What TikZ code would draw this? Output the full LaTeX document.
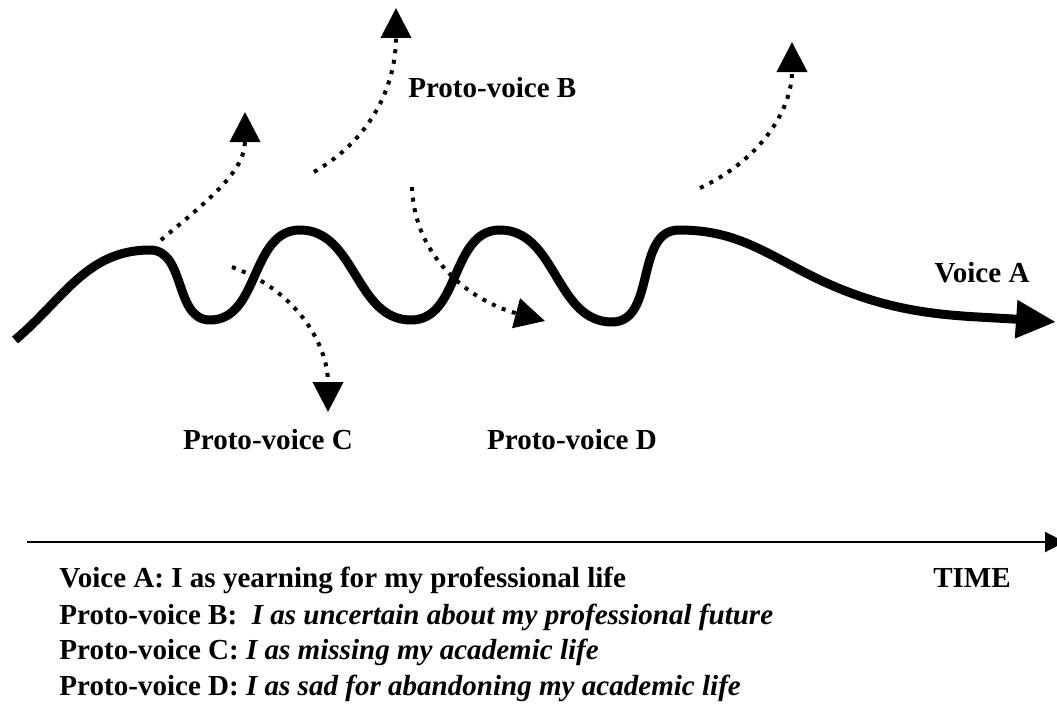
\documentclass[tikz,border=0pt]{standalone}
\usepackage{fontspec}
\setmainfont{Liberation Serif}
\usetikzlibrary{arrows.meta}

\begin{document}
\begin{tikzpicture}[
	x=0.015cm, y=0.015cm,
	font=\fontsize{12.4}{15}\selectfont\bfseries,
	voice/.style={% the main line
		line width=0.135cm,
		-{Triangle[length=0.6cm,width=0.54cm]},
	},
	proto/.style={% dotted arrows
		line width=0.06cm,
		dash pattern=on 0.06cm off 0.1cm,
		-{Triangle[length=0.45cm,width=0.45cm]},
	},
	legend/.style={
		anchor=west,
		inner sep=0pt,
	},
]
	\useasboundingbox (0,0) rectangle (1057,-703);

	% Voice A
	\coordinate (start) at (15,-340);
	\coordinate (p1) at (150,-250);
	\coordinate (t1) at (210,-320);
	\coordinate (p2) at (300,-230);
	\coordinate (t2) at (411,-320);
	\coordinate (p3) at (500,-230);
	\coordinate (t3) at (612,-322);
	\coordinate (p4) at (679,-230);
	\coordinate (bend) at (800,-270);
	\coordinate (end) at (1056,-322);
	\node (voiceA) at (982,-273) {Voice A};

	\draw [voice] (start) to[out=40,in=180] (p1) to[out=0,in=180] (t1)
		to[out=0,in=180] (p2) to[out=0,in=180] (t2)
		to[out=0,in=180] (p3) to[out=0,in=180] (t3)
		to[out=0,in=180] (p4) to[out=0,in=152] (bend) to[out=-28,in=176] (end);

	% proto-voices
	\coordinate (a1) at (161,-240);
	\coordinate (a2) at (245,-112);
	\coordinate (b1) at (314,-172);
	\coordinate (b2) at (396,-8);
	\coordinate (c1) at (232,-267);
	\coordinate (c2) at (328,-412);
	\coordinate (d1) at (412,-187);
	\coordinate (d2) at (545,-321);
	\coordinate (e1) at (700,-188);
	\coordinate (e2) at (792,-42);

	\draw [proto] (a1) to[out=40,in=-90] (a2);
	\draw [proto] (b1) to[out=30,in=-90] (b2);
	\draw [proto] (c1) to[out=-20,in=90] (c2);
	\draw [proto] (d1) to[out=-88,in=165] (d2);
	\draw [proto] (e1) to[out=25,in=-90] (e2);

	\node [anchor=west] (protoB) at (400,-88) {Proto-voice B};
	\node (protoC) at (268,-440) {Proto-voice C};
	\node (protoD) at (572,-440) {Proto-voice D};

	% time axis
	\coordinate (time0) at (27,-542);
	\coordinate (time1) at (1065,-542);
	\draw [line width=0.03cm,-{Triangle[length=0.3cm,width=0.3cm]}] (time0) -- (time1);
	\node (time) at (972,-578) {TIME};

	% legend
	\node [legend] (legA) at (59,-580) {Voice A: I as yearning for my professional life};
	\node [legend] (legB) at (59,-617) {Proto-voice B:\ \ \textit{I as uncertain about my professional future}};
	\node [legend] (legC) at (59,-652) {Proto-voice C: \textit{I as missing my academic life}};
	\node [legend] (legD) at (59,-688) {Proto-voice D: \textit{I as sad for abandoning my academic life}};
\end{tikzpicture}
\end{document}
